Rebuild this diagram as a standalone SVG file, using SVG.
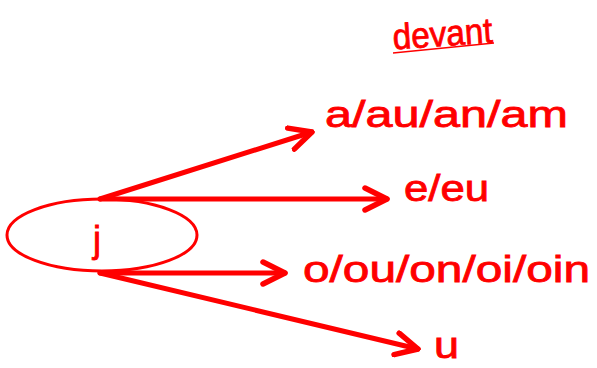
<svg xmlns="http://www.w3.org/2000/svg" width="597" height="368" viewBox="0 0 597 368">
<style>
.t{font-family:"Liberation Sans","DejaVu Sans",sans-serif;fill:#ff0000;font-size:36px;stroke:#ff0000;stroke-width:0.8}
.c{stroke:#ff0000;stroke-width:5;fill:none;stroke-linecap:round;stroke-linejoin:round}
</style>
<defs>
<marker id="ah" viewBox="0 0 10 10" refX="9" refY="5" markerWidth="5.5" markerHeight="5.5" markerUnits="strokeWidth" orient="auto">
<path d="M1,1 L9,5 L1,9" fill="none" stroke="#ff0000" stroke-width="2" stroke-linecap="round" stroke-linejoin="round"/>
</marker>
</defs>
<rect width="597" height="368" fill="#ffffff"/>
<g id="title">
<text class="t" x="393" y="46" font-size="30" textLength="100" lengthAdjust="spacingAndGlyphs" transform="rotate(-4 443 40)">devant</text>
<line x1="393" y1="53" x2="494" y2="43" stroke="#ff0000" stroke-width="1.5"/>
</g>
<g id="node-j">
<ellipse cx="102" cy="235" rx="95" ry="36" fill="none" stroke="#ff0000" stroke-width="3"/>
<text class="t" x="97" y="252" text-anchor="middle" font-size="42">j</text>
</g>
<g id="connectors">
<line class="c" x1="100" y1="199" x2="312" y2="132" marker-end="url(#ah)"/>
<line class="c" x1="100" y1="199" x2="387" y2="199" marker-end="url(#ah)"/>
<line class="c" x1="100" y1="273" x2="285" y2="273" marker-end="url(#ah)"/>
<line class="c" x1="100" y1="273" x2="418" y2="349" marker-end="url(#ah)"/>
</g>
<g id="label-a">
<text class="t" x="325" y="127" textLength="243" lengthAdjust="spacingAndGlyphs">a/au/an/am</text>
</g>
<g id="label-e">
<text class="t" x="404" y="201" textLength="85" lengthAdjust="spacingAndGlyphs">e/eu</text>
</g>
<g id="label-o">
<text class="t" x="303" y="282" textLength="287" lengthAdjust="spacingAndGlyphs">o/ou/on/oi/oin</text>
</g>
<g id="label-u">
<text class="t" x="434" y="358" textLength="25" lengthAdjust="spacingAndGlyphs">u</text>
</g>
</svg>
